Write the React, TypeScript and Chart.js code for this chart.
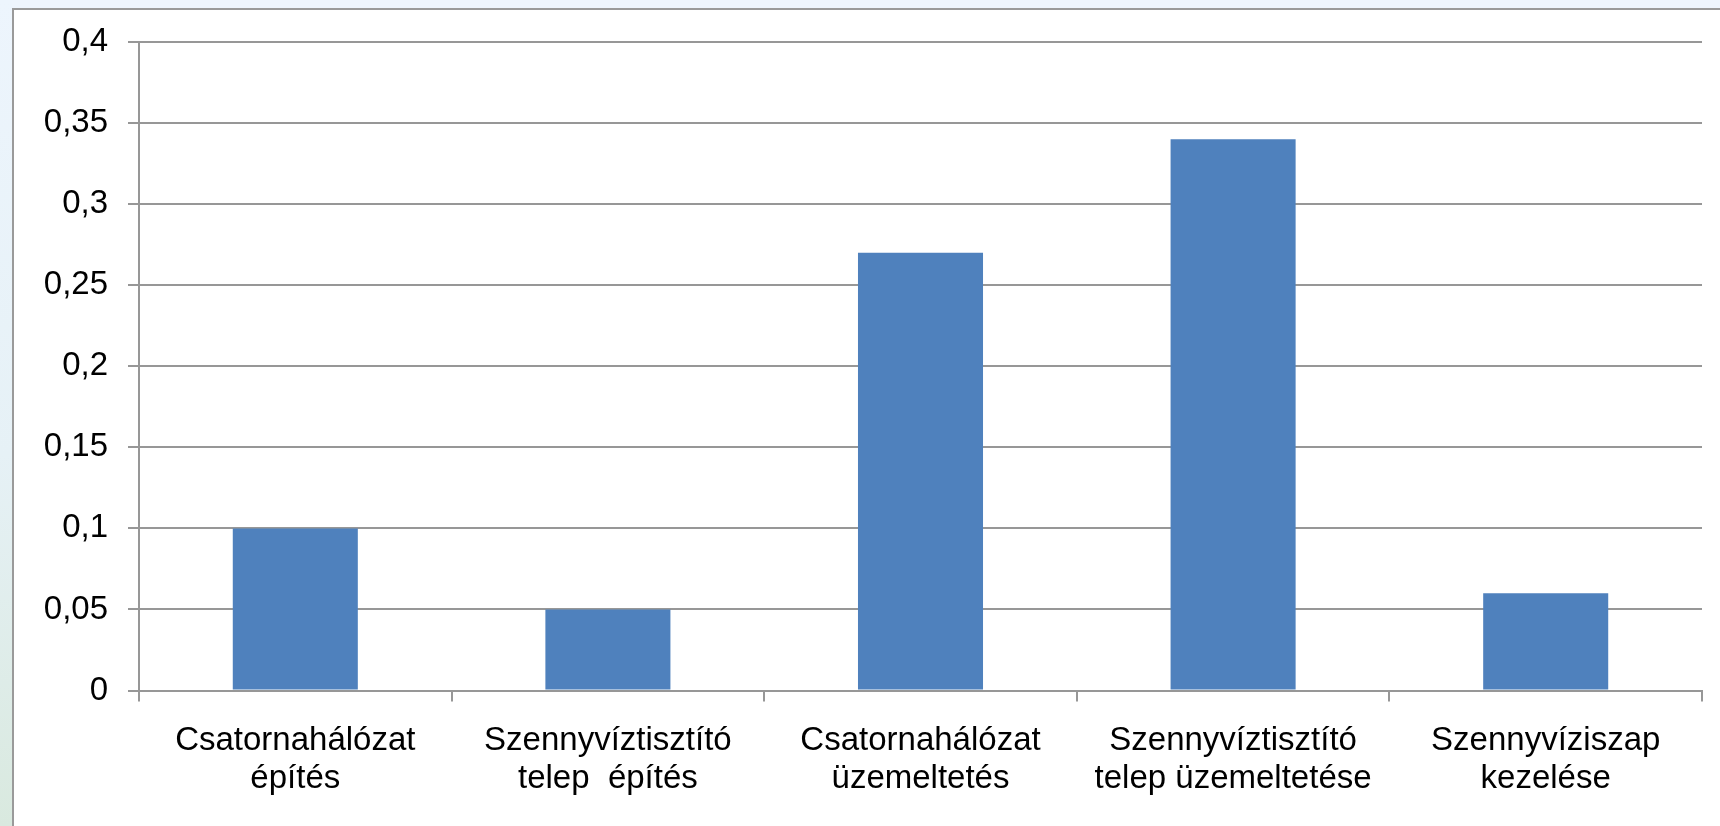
import React, { useEffect, useRef } from "react";
import { Chart, registerables } from "chart.js";

Chart.register(...registerables);

// Cost shares by activity (values on a 0–0.4 scale)
const categories: string[][] = [
  ["Csatornahálózat", "építés"],
  ["Szennyvíztisztító", "telep  építés"],
  ["Csatornahálózat", "üzemeltetés"],
  ["Szennyvíztisztító", "telep üzemeltetése"],
  ["Szennyvíziszap", "kezelése"],
];
const values: number[] = [0.1, 0.05, 0.27, 0.34, 0.06];

const yMin = 0;
const yMax = 0.4;
const yStep = 0.05;

const FONT = "'Liberation Sans', Arial, Helvetica, sans-serif";
const GRID = "#979797";

const formatTick = (v: number | string) =>
  String(parseFloat(Number(v).toFixed(2))).replace(".", ",");

export default function App() {
  const canvasRef = useRef<HTMLCanvasElement | null>(null);

  useEffect(() => {
    const canvas = canvasRef.current;
    if (!canvas) return;
    const chart = new Chart(canvas, {
      type: "bar",
      data: {
        labels: categories,
        datasets: [
          {
            data: values,
            backgroundColor: "#4f81bd",
            borderWidth: 0,
            categoryPercentage: 1,
            barPercentage: 0.4,
          },
        ],
      },
      options: {
        responsive: false,
        animation: false,
        layout: { padding: { left: 0, top: 42, right: 18, bottom: 0 } },
        plugins: {
          legend: { display: false },
          tooltip: { enabled: false },
          title: { display: false },
        },
        scales: {
          x: {
            type: "category",
            offset: true,
            grid: {
              offset: true,
              drawOnChartArea: false,
              drawTicks: true,
              tickLength: 11,
              color: GRID,
              lineWidth: 2,
            },
            border: { display: true, color: GRID, width: 2 },
            ticks: {
              color: "#000",
              padding: 20,
              maxRotation: 0,
              minRotation: 0,
              autoSkip: false,
              font: { family: FONT, size: 33, lineHeight: 1.16 },
            },
            afterFit: (scale: any) => {
              scale.height = 135.5;
            },
          },
          y: {
            min: yMin,
            max: yMax,
            grid: {
              drawTicks: true,
              tickLength: 11,
              color: GRID,
              lineWidth: 2,
            },
            border: { display: true, color: GRID, width: 2 },
            ticks: {
              stepSize: yStep,
              color: "#000",
              padding: 20,
              font: { family: FONT, size: 33 },
              callback: (v: number | string) => formatTick(v),
            },
            afterFit: (scale: any) => {
              scale.width = 139;
            },
          },
        },
      },
    });
    return () => chart.destroy();
  }, []);

  return (
    <div
      style={{
        position: "fixed",
        left: 0,
        top: 0,
        width: 1720,
        height: 826,
        overflow: "hidden",
        background: "#eef5fd",
      }}
    >
      <div
        style={{
          position: "absolute",
          left: 0,
          top: 0,
          width: 12,
          height: 826,
          background: "linear-gradient(to bottom, #edf5fd 0%, #e6f1f6 55%, #d9e9df 100%)",
        }}
      />
      <div
        style={{
          position: "absolute",
          left: 12,
          top: 8,
          width: 1740,
          height: 840,
          background: "#ffffff",
          borderLeft: "2px solid #9a9a9a",
          borderTop: "2px solid #9a9a9a",
        }}
      />
      <canvas
        ref={canvasRef}
        width={1720}
        height={826}
        style={{ position: "absolute", left: 0, top: 0, width: 1720, height: 826 }}
      />
    </div>
  );
}
